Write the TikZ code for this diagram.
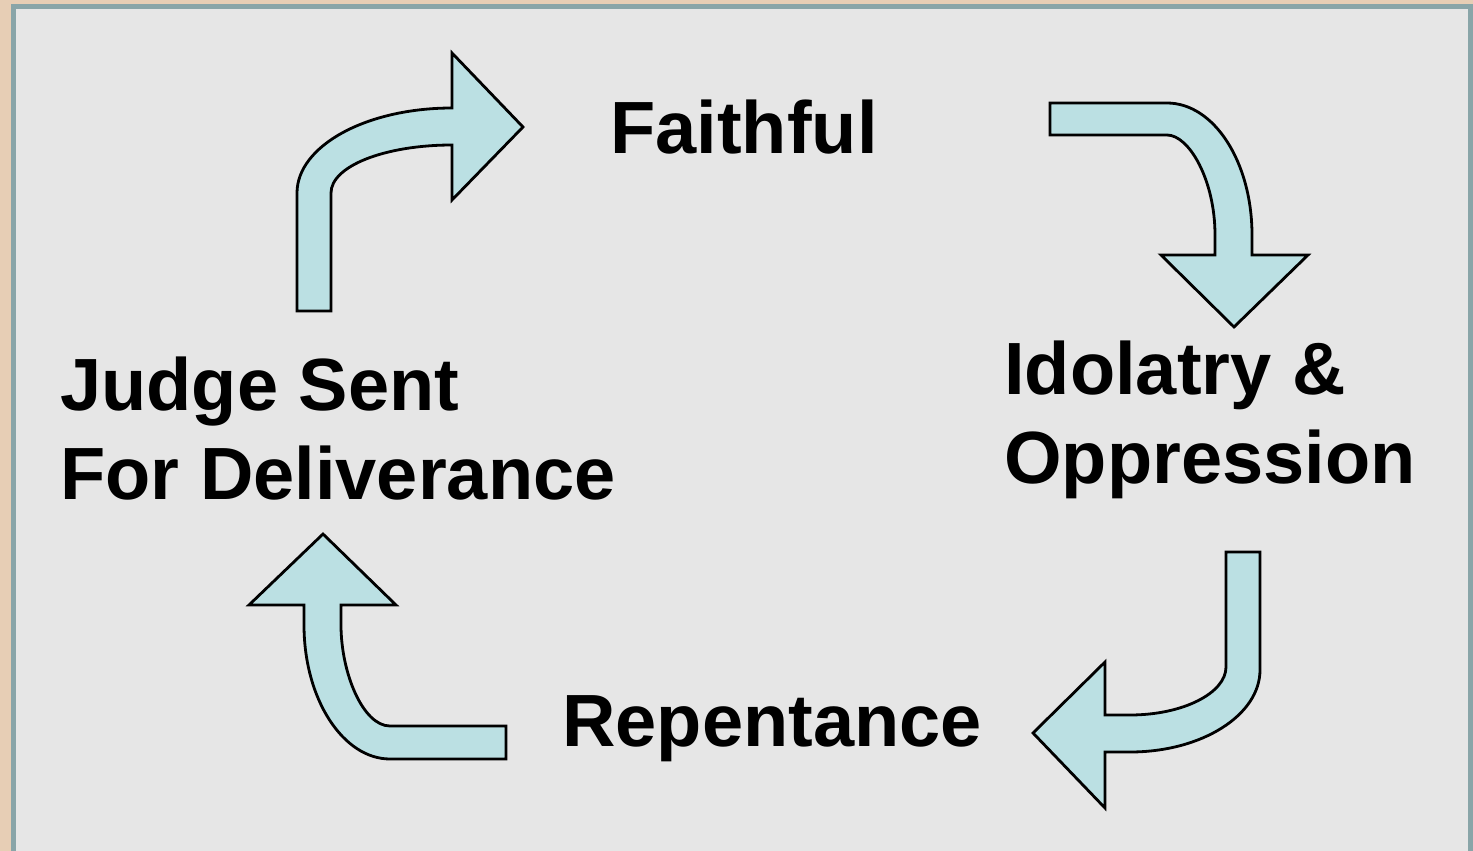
\documentclass[tikz,border=0pt]{standalone}
\usepackage{fontspec}
\setmainfont{Liberation Sans}
\definecolor{woodtan}{RGB}{231,206,181}
\definecolor{framegray}{RGB}{137,165,168}
\definecolor{panelgray}{RGB}{230,230,230}
\definecolor{arrowblue}{RGB}{187,224,227}
\begin{document}
\begin{tikzpicture}[x=.5pt, y=-.5pt, line join=miter,
	bentarrow/.style={fill=arrowblue, draw=black, line width=1.4pt},
	lbl/.style={anchor=base west, inner sep=0pt, align=left, font=\fontsize{37}{44.5}\selectfont\bfseries}]
			\useasboundingbox (0, 0) rectangle (1473, 851);
			\fill[woodtan] (0, 0) rectangle (1473, 851);
			\fill[framegray] (11, 4) rectangle (1480, 860);
			\fill[panelgray] (16, 9) rectangle (1468, 860);
			\draw[bentarrow] (297, 311) -- (297, 193) .. controls (297, 146) and (366, 108) .. (452, 108) -- (452, 53) -- (523, 127) -- (452, 200) -- (452, 145) .. controls (385, 145) and (331, 166) .. (331, 193) -- (331, 311) -- cycle;
			\draw[bentarrow] (1050, 103) -- (1167, 103) .. controls (1214, 103) and (1252, 162) .. (1252, 235) -- (1252, 255) -- (1308, 255) -- (1234, 327) -- (1161, 255) -- (1215, 255) -- (1215, 235) .. controls (1215, 180) and (1189, 135) .. (1167, 135) -- (1050, 135) -- cycle;
			\draw[bentarrow] (1226, 552) -- (1226, 667) .. controls (1226, 693) and (1183, 715) .. (1130, 715) -- (1105, 715) -- (1105, 662) -- (1033, 733) -- (1105, 808) -- (1105, 752) -- (1130, 752) .. controls (1202, 752) and (1260, 715) .. (1260, 670) -- (1260, 552) -- cycle;
			\draw[bentarrow] (304, 605) -- (304, 625) .. controls (304, 699) and (343, 759) .. (390, 759) -- (506, 759) -- (506, 726) -- (390, 726) .. controls (363, 726) and (341, 673) .. (341, 625) -- (341, 605) -- (396, 605) -- (323, 534) -- (249, 605) -- cycle;
			\node[lbl] (faithful) at (610, 153) {Faithful};
			\node[lbl] (idolatry) at (1004, 483) {Idolatry \&\\Oppression};
			\node[lbl] (repentance) at (562, 746) {Repentance};
			\node[lbl] (judge) at (60, 499) {Judge Sent\\For Deliverance};
\end{tikzpicture}
\end{document}
